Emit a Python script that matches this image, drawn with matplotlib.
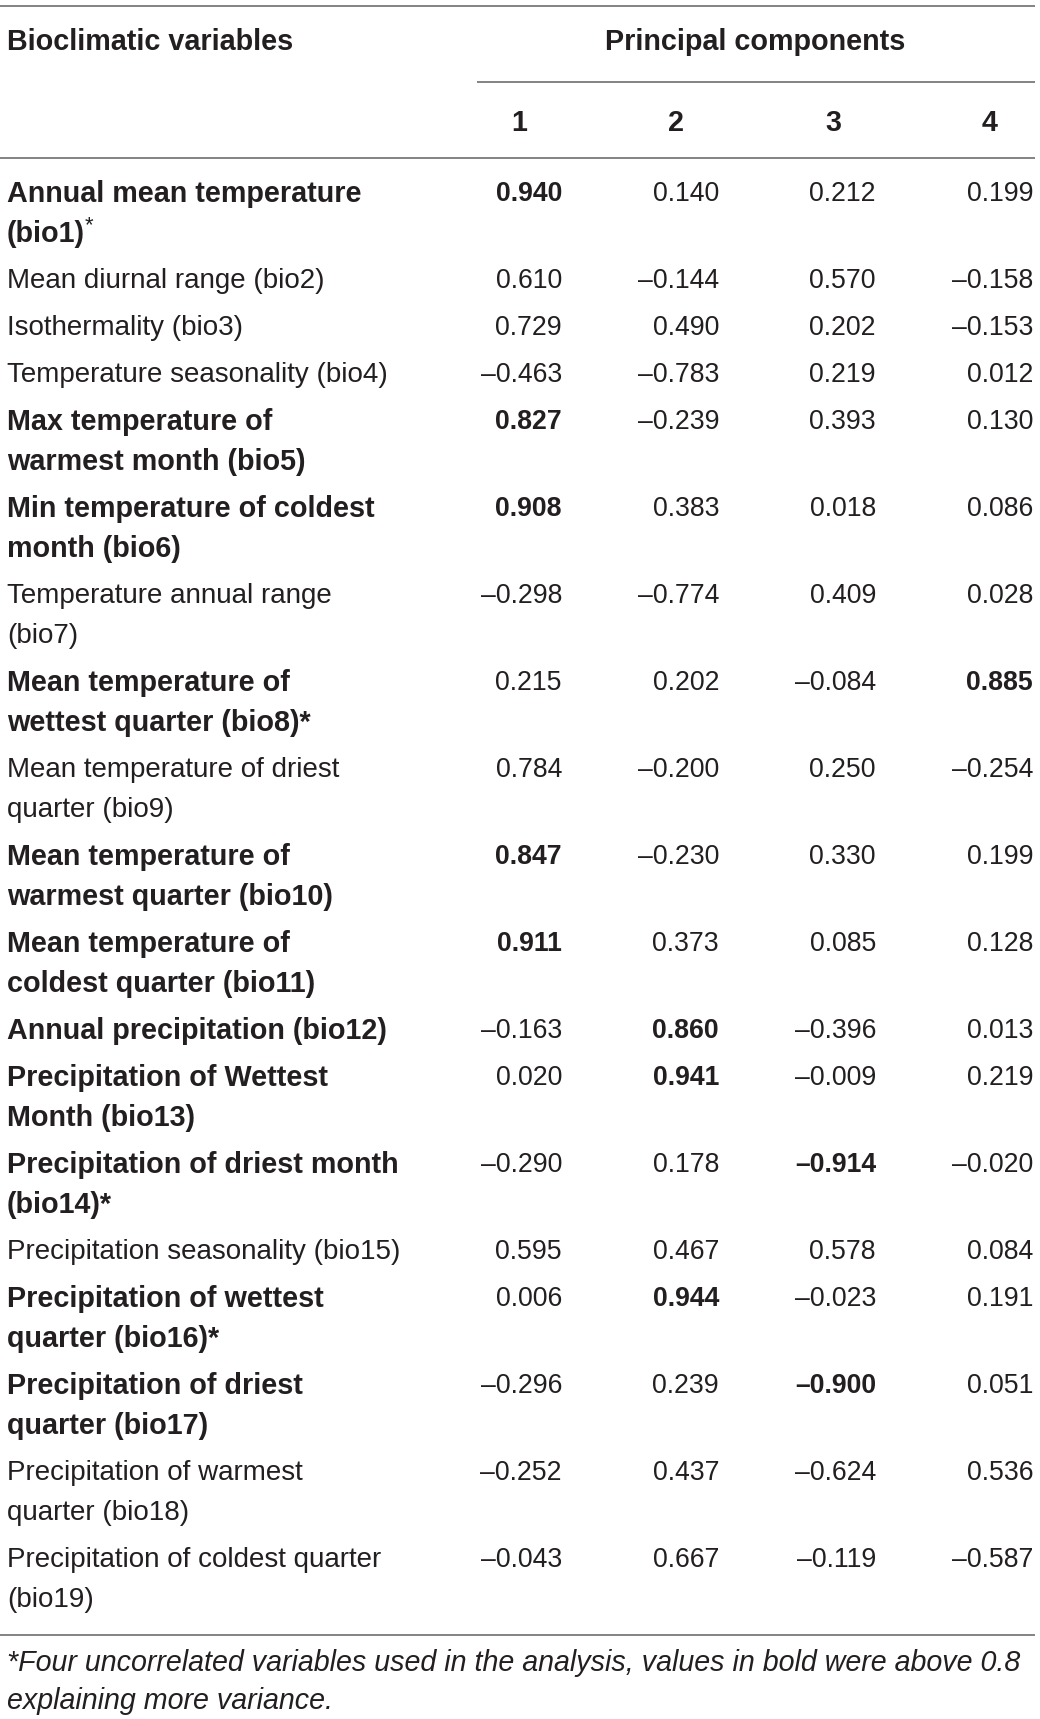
import matplotlib
matplotlib.use('Agg')
import matplotlib.pyplot as plt

# table content
labels = [
    'Annual mean temperature\n(bio1)',
    'Mean diurnal range (bio2)',
    'Isothermality (bio3)',
    'Temperature seasonality (bio4)',
    'Max temperature of\nwarmest month (bio5)',
    'Min temperature of coldest\nmonth (bio6)',
    'Temperature annual range\n(bio7)',
    'Mean temperature of\nwettest quarter (bio8)*',
    'Mean temperature of driest\nquarter (bio9)',
    'Mean temperature of\nwarmest quarter (bio10)',
    'Mean temperature of\ncoldest quarter (bio11)',
    'Annual precipitation (bio12)',
    'Precipitation of Wettest\nMonth (bio13)',
    'Precipitation of driest month\n(bio14)*',
    'Precipitation seasonality (bio15)',
    'Precipitation of wettest\nquarter (bio16)*',
    'Precipitation of driest\nquarter (bio17)',
    'Precipitation of warmest\nquarter (bio18)',
    'Precipitation of coldest quarter\n(bio19)',
]
label_bold = [True, False, False, False, True, True, False, True, False, True,
              True, True, True, True, False, True, True, False, False]

pc1 = [0.940, 0.610, 0.729, -0.463, 0.827, 0.908, -0.298, 0.215, 0.784, 0.847,
       0.911, -0.163, 0.020, -0.290, 0.595, 0.006, -0.296, -0.252, -0.043]
pc2 = [0.140, -0.144, 0.490, -0.783, -0.239, 0.383, -0.774, 0.202, -0.200, -0.230,
       0.373, 0.860, 0.941, 0.178, 0.467, 0.944, 0.239, 0.437, 0.667]
pc3 = [0.212, 0.570, 0.202, 0.219, 0.393, 0.018, 0.409, -0.084, 0.250, 0.330,
       0.085, -0.396, -0.009, -0.914, 0.578, -0.023, -0.900, -0.624, -0.119]
pc4 = [0.199, -0.158, -0.153, 0.012, 0.130, 0.086, 0.028, 0.885, -0.254, 0.199,
       0.128, 0.013, 0.219, -0.020, 0.084, 0.191, 0.051, 0.536, -0.587]
components = ['1', '2', '3', '4']

footnote = ('*Four uncorrelated variables used in the analysis, values in bold were above 0.8\n'
            'explaining more variance.')

TEXT = '#231f20'
RULE = '#7a7a7a'
FS = 18.6
FS_BOLD_LABEL = FS * 1.115
FS_LABEL = FS * 1.075
FS_NUM = FS * 1.03
FONT = 'Liberation Sans'


def fmt(v):
    s = f'{abs(v):.3f}'
    return ('\u2013' + s) if v < 0 else s


def main():
    W, H = 1040, 1719
    fig = plt.figure(figsize=(W / 100, H / 100), dpi=100)
    ax = fig.add_axes([0, 0, 1, 1])
    ax.set_xlim(0, W)
    ax.set_ylim(H, 0)
    ax.axis('off')

    left = 7
    col_right = [562, 719, 876, 1033]
    line_gap = 40

    # header
    ax.hlines(6, 0, 1035, color=RULE, lw=1.3)
    ax.text(left, 42, 'Bioclimatic variables', fontsize=FS_BOLD_LABEL, fontweight='bold',
            family=FONT, color=TEXT, va='center', ha='left')
    ax.text(755, 42, 'Principal components', fontsize=FS_BOLD_LABEL, fontweight='bold',
            family=FONT, color=TEXT, va='center', ha='center')
    ax.hlines(82, 477, 1035, color=RULE, lw=1.3)
    for c, r in zip(components, col_right):
        ax.text(r - 43, 123, c, fontsize=FS_BOLD_LABEL, fontweight='bold', family=FONT,
                color=TEXT, va='center', ha='center')
    ax.hlines(158, 0, 1035, color=RULE, lw=1.3)

    cols = [pc1, pc2, pc3, pc4]
    y = 194
    for i, lab in enumerate(labels):
        bold_lab = label_bold[i]
        lines = lab.split('\n')
        for k, ln in enumerate(lines):
            t = ax.text(left, y + k * line_gap, ln,
                        fontsize=FS_BOLD_LABEL if bold_lab else FS_LABEL,
                        fontweight='bold' if bold_lab else 'normal',
                        family=FONT, color=TEXT, va='center', ha='left')
            if i == 0 and k == 1:
                fig.canvas.draw()
                bb = t.get_window_extent().transformed(ax.transData.inverted())
                ax.text(bb.x1, y + k * line_gap - 8, '*', fontsize=FS * 0.85,
                        family=FONT, color=TEXT, va='center', ha='left')
        for j, vals in enumerate(cols):
            v = vals[i]
            bold = abs(v) > 0.8
            ax.text(col_right[j], y, fmt(v), fontsize=FS_NUM,
                    fontweight='bold' if bold else 'normal', family=FONT,
                    color=TEXT, va='center', ha='right')
        y += 47 + line_gap * (len(lines) - 1)

    ax.hlines(1635, 0, 1035, color=RULE, lw=1.3)
    for k, ln in enumerate(footnote.split('\n')):
        ax.text(left, 1663 + k * 38, ln, fontsize=FS * 1.11, style='italic',
                family=FONT, color=TEXT, va='center', ha='left')

    fig.savefig('out.png', dpi=100)
    plt.close(fig)


if __name__ == '__main__':
    main()
